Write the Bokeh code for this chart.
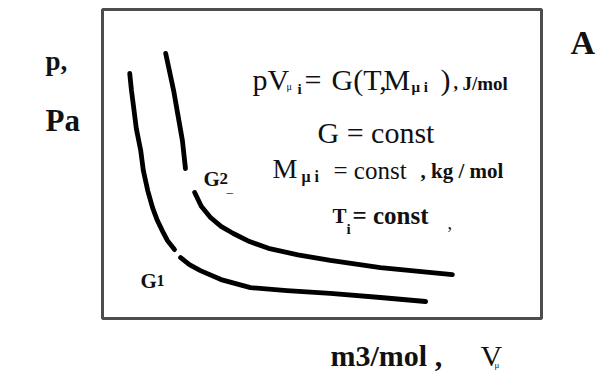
from bokeh.plotting import figure
from bokeh.models import Label, Range1d
from bokeh.embed import file_html
from bokeh.resources import INLINE

# Isotherm-like curves p(V) for two values of G = pV (arbitrary units)
g1_upper_v = [0.62, 0.66, 0.71, 0.77, 0.87, 0.93, 1.03, 1.14, 1.25, 1.37, 1.48, 1.64]
g1_upper_p = [7.93, 7.38, 6.83, 6.15, 5.44, 4.79, 4.14, 3.59, 3.17, 2.82, 2.52, 2.23]
g1_lower_v = [1.78, 1.98, 2.23, 2.70, 3.37, 4.20, 5.19, 6.33, 7.36]
g1_lower_p = [1.97, 1.74, 1.55, 1.26, 1.00, 0.90, 0.81, 0.68, 0.55]

g2_upper_v = [1.44, 1.53, 1.62, 1.72, 1.82, 1.89]
g2_upper_p = [8.58, 7.98, 7.38, 6.57, 5.76, 4.85]
g2_lower_v = [2.10, 2.25, 2.46, 2.70, 2.98, 3.35, 3.78, 4.45, 5.19, 6.33, 7.97]
g2_lower_p = [4.08, 3.63, 3.27, 2.98, 2.75, 2.49, 2.27, 2.06, 1.88, 1.65, 1.42]

W, H = 605, 371
FL, FR, FT, FB = 102, 541, 9, 318   # box edges in canvas pixels
XMAX, YMAX = 10.0, 10.0
SX = (FR - FL) / XMAX
SY = (FB - FT) / YMAX

p = figure(width=W, height=H, output_backend="svg", toolbar_location=None,
           x_range=Range1d(-FL / SX, (W - FL) / SX),
           y_range=Range1d(-(H - FB) / SY, FB / SY),
           min_border=0)
p.xaxis.visible = False
p.yaxis.visible = False
p.grid.visible = False
p.outline_line_color = None
p.background_fill_color = "white"
p.border_fill_color = "white"

# plot box
p.quad(left=[0], right=[XMAX], bottom=[0], top=[YMAX], fill_color=None,
       line_color="#4d4d4d", line_width=3)

for vs, ps in [(g1_upper_v, g1_upper_p), (g1_lower_v, g1_lower_p),
               (g2_upper_v, g2_upper_p), (g2_lower_v, g2_lower_p)]:
    p.line(vs, ps, line_color="black", line_width=4.8,
           line_cap="round", line_join="round")


def dx(px):
    return (px - FL) / SX


def dy(py):
    return (FB - py) / SY


SERIF = "Liberation Serif"


def txt(s, x, y, size, bold=False, color="#111111"):
    p.add_layout(Label(x=dx(x), y=dy(y), text=s, text_font=SERIF,
                       text_font_size=f"{size}px",
                       text_font_style="bold" if bold else "normal",
                       text_color=color, text_baseline="alphabetic",
                       text_align="left"))


# axis captions
txt("p,", 45, 60, 27, True)
txt("Pa", 45, 120, 31, True)
txt("A", 570, 42, 34, True)
txt("m3/mol ,", 330, 355, 30, True)
txt("V", 480, 355, 30)
txt("μ", 494, 364, 9)

# formula block
txt("pV", 252, 79, 30)
txt("μ", 286, 86, 10)
txt("i", 297, 88, 15, True)
txt("=", 304, 79, 30)
txt("G(T,", 331, 79, 30)
txt("M", 383, 79, 30)
txt("μ i", 411, 86, 15, True)
txt(")", 440, 79, 30)
txt(",", 453, 82, 18, True)
txt("J/mol", 462, 83, 19, True)

txt("G = const", 317, 132, 30)

txt("M", 272, 168, 28)
txt("μ i", 301, 176, 16, True)
txt("= const", 333, 170, 25)
txt(", kg / mol", 420, 170, 21, True)

txt("T", 332, 215, 21, True)
txt("i", 346, 228, 15, True)
txt("= const", 352, 215, 25, True)
txt(",", 447, 222, 18)

# curve labels
txt("G", 140, 280, 21, True)
txt("1", 156, 280, 16, True)
txt("G", 203, 178, 21, True)
txt("2", 219, 178, 17, True)
txt("_", 226, 187, 13)

open("out.html", "w").write(file_html(p, INLINE))
